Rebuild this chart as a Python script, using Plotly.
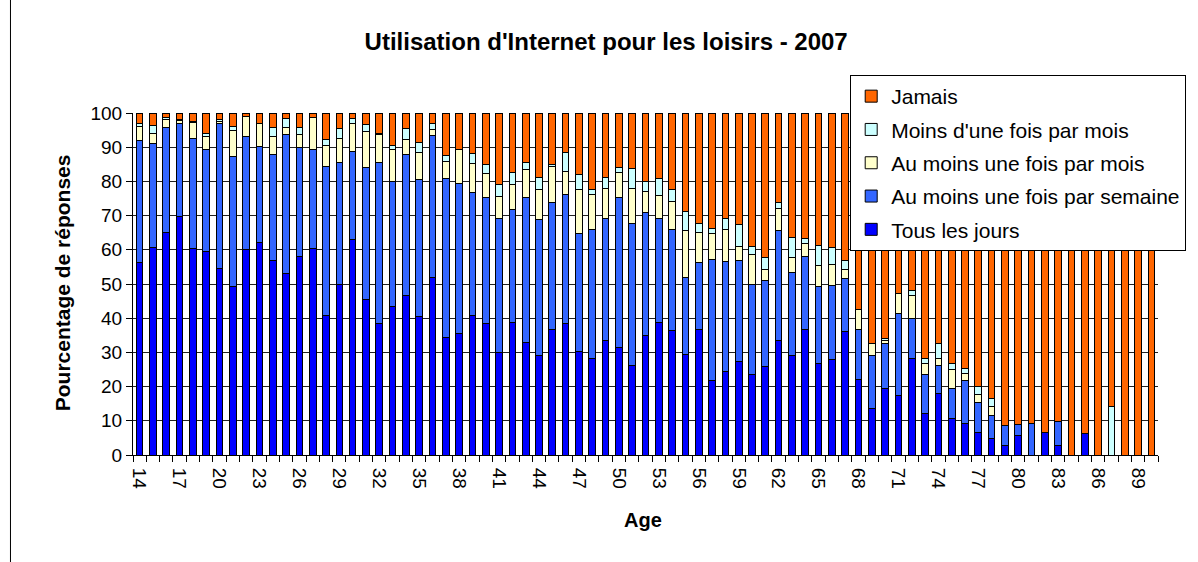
import plotly.graph_objects as go

ages = list(range(14, 91))

tous_les_jours = [56.3, 60.6, 65.1, 69.6, 60.4, 59.5, 54.6, 49.2, 60.2, 62.1,
                  56.8, 53.1, 58.0, 60.4, 40.7, 50.0, 62.9, 45.6, 38.5, 43.4,
                  46.6, 40.4, 51.9, 34.3, 35.6, 40.9, 38.5, 30.0, 38.8, 32.9,
                  29.2, 36.7, 38.5, 30.4, 28.3, 33.6, 31.4, 26.3, 34.8, 38.7,
                  36.3, 29.4, 36.7, 21.7, 24.4, 27.3, 23.4, 25.8, 33.6, 29.2,
                  36.7, 26.8, 28.0, 36.1, 22.1, 13.6, 19.5, 17.3, 28.3, 12.0,
                  18.0, 10.7, 9.3, 6.6, 4.9, 2.9, 5.7, 0.0, 6.6, 2.9,
                  0.0, 6.3, 0.0, 0.0, 0.0, 0.0, 0.0]
semaine = [35.8, 30.5, 30.7, 27.4, 32.2, 29.9, 42.2, 38.0, 32.8, 28.1,
           31.1, 40.7, 31.9, 29.0, 43.6, 35.5, 25.8, 38.5, 47.1, 36.7,
           41.3, 40.3, 41.4, 46.6, 43.8, 35.9, 36.8, 39.2, 33.1, 42.3,
           39.8, 37.2, 37.7, 34.4, 37.5, 35.6, 43.9, 41.4, 36.1, 30.5,
           29.7, 22.5, 19.5, 35.5, 32.1, 29.7, 26.5, 25.1, 31.9, 24.2,
           21.3, 22.6, 21.5, 15.4, 14.6, 15.4, 13.2, 24.1, 11.7, 11.6,
           8.1, 8.6, 12.6, 8.7, 6.6, 5.7, 3.1, 9.3, 0.0, 6.8,
           0.0, 0.0, 0.0, 0.0, 0.0, 0.0, 0.0]
mois = [4.1, 3.0, 2.3, 0.7, 4.7, 3.7, 0.7, 7.8, 5.9, 6.8,
        5.2, 1.9, 3.9, 9.2, 6.3, 7.1, 8.3, 10.4, 8.2, 9.3,
        4.4, 7.7, 1.9, 4.9, 10.0, 8.5, 7.1, 6.3, 7.3, 8.3,
        8.7, 10.4, 6.6, 12.7, 10.4, 8.6, 7.3, 10.3, 6.1, 6.8,
        8.1, 13.6, 8.8, 7.6, 9.3, 3.9, 8.6, 3.2, 6.6, 4.4,
        3.9, 5.9, 6.3, 2.8, 5.9, 3.5, 0.7, 5.9, 6.5, 3.2,
        2.2, 5.7, 2.0, 2.4, 2.6, 0.0, 0.0, 0.0, 0.0, 0.0,
        0.0, 0.0, 0.0, 0.0, 0.0, 0.0, 0.0]
moins_mois = [0.8, 2.2, 0.5, 0.3, 0.2, 1.0, 0.5, 1.0, 0.1, 0.0,
              2.6, 2.8, 1.9, 0.0, 1.7, 2.9, 1.4, 2.0, 0.2, 1.2,
              3.2, 2.9, 1.8, 1.7, 0.0, 2.9, 2.6, 3.6, 3.4, 2.0,
              3.4, 0.5, 5.6, 4.6, 1.3, 3.3, 1.4, 5.8, 2.9, 4.9,
              3.4, 5.8, 2.7, 1.5, 3.4, 6.6, 2.6, 3.7, 1.8, 5.7,
              1.3, 6.1, 4.8, 2.7, 0.0, 0.0, 0.7, 0.0, 1.7, 1.5,
              4.4, 1.8, 1.4, 2.3, 2.5, 0.0, 0.0, 0.0, 0.0, 0.0,
              0.0, 0.0, 0.0, 14.3, 0.0, 0.0, 0.0]
jamais = [3.0, 3.7, 1.4, 2.0, 2.5, 5.9, 2.0, 4.0, 1.0, 3.0,
          4.3, 1.5, 4.3, 1.4, 7.7, 4.5, 1.6, 3.5, 6.0, 9.4,
          4.5, 8.7, 3.0, 12.5, 10.6, 11.8, 15.0, 20.9, 17.4, 14.5,
          18.9, 15.2, 11.6, 17.9, 22.5, 18.9, 16.0, 16.2, 20.1, 19.1,
          22.5, 28.7, 32.3, 33.7, 30.8, 32.5, 38.9, 42.2, 26.1, 36.5,
          36.8, 38.6, 39.4, 43.0, 57.4, 67.5, 65.9, 52.7, 51.8, 71.7,
          67.3, 73.2, 74.7, 80.0, 83.4, 91.4, 91.2, 90.7, 93.4, 90.3,
          100.0, 93.7, 100.0, 85.7, 100.0, 100.0, 100.0]

series = [
    ("Tous les jours", tous_les_jours, "#0000FF"),
    ("Au moins une fois par semaine", semaine, "#3366FF"),
    ("Au moins une fois par mois", mois, "#FFFFCC"),
    ("Moins d'une fois par mois", moins_mois, "#CCFFFF"),
    ("Jamais", jamais, "#FF6600"),
]

tick_ages = list(range(14, 91, 3))
y_ticks = list(range(0, 101, 10))

FONT = "Arial, Liberation Sans, sans-serif"

fig = go.Figure()
n = len(series)
for i, (name, vals, col) in enumerate(series):
    fig.add_trace(go.Bar(
        x=ages, y=vals, name=name, legendgroup=str(i), legendrank=n - i,
        marker=dict(color=col, line=dict(color="black", width=1)),
    ))

W, H = 1198, 562
L, R, T, B = 133, 36, 113, 107
pw, ph = W - L - R, H - T - B

def px(x):
    return (x - L) / pw

def py(y):
    return (H - B - y) / ph

fig.update_layout(
    width=W, height=H,
    margin=dict(l=L, r=R, t=T, b=B),
    barmode="stack", bargap=0.5,
    paper_bgcolor="white", plot_bgcolor="white",
    font=dict(family=FONT, size=19, color="black"),
    title=dict(text="<b>Utilisation d'Internet pour les loisirs - 2007</b>",
               x=px(608), xanchor="center", xref="paper",
               y=1 - 42 / H, yanchor="middle", yref="container",
               font=dict(size=24, family=FONT)),
    legend=dict(x=px(853), y=py(75), xanchor="left", yanchor="top",
                traceorder="grouped", tracegroupgap=3,
                bordercolor="black", borderwidth=1, bgcolor="white",
                font=dict(size=21, family=FONT), itemwidth=30),
    xaxis=dict(range=[13.5, 90.5], tickmode="array", tickvals=tick_ages,
               ticktext=[str(a) for a in tick_ages], tickangle=90,
               ticks="", showgrid=False, showline=True, linecolor="black",
               linewidth=1, zeroline=False, ticklabelstandoff=8,
               minor=dict(tick0=13.5, dtick=1, ticks="outside", ticklen=6,
                          tickcolor="black", showgrid=False),
               tickfont=dict(size=19)),
    yaxis=dict(range=[0, 100], tickmode="array", tickvals=y_ticks,
               ticks="outside", ticklen=6, tickcolor="black",
               showgrid=True, gridcolor="#222222", gridwidth=1,
               showline=True, linecolor="black", linewidth=1, zeroline=False,
               tickfont=dict(size=19)),
    annotations=[
        dict(text="<b>Age</b>", xref="paper", yref="paper",
             x=px(645), y=py(520), xanchor="center", yanchor="middle",
             showarrow=False, font=dict(size=20, family=FONT)),
        dict(text="<b>Pourcentage de réponses</b>", xref="paper", yref="paper",
             x=px(62), y=py(283), xanchor="center", yanchor="middle",
             textangle=-90, showarrow=False, font=dict(size=21, family=FONT)),
    ],
    shapes=[dict(type="rect", xref="paper", yref="paper",
                 x0=px(10), x1=px(1240), y0=py(-5), y1=py(600),
                 line=dict(color="black", width=1), fillcolor="rgba(0,0,0,0)",
                 layer="below")],
)

fig.write_html("out.html",
               config={"displayModeBar": False},
               post_script="document.body.style.margin='0px';"
                           "document.body.style.overflow='hidden';")
